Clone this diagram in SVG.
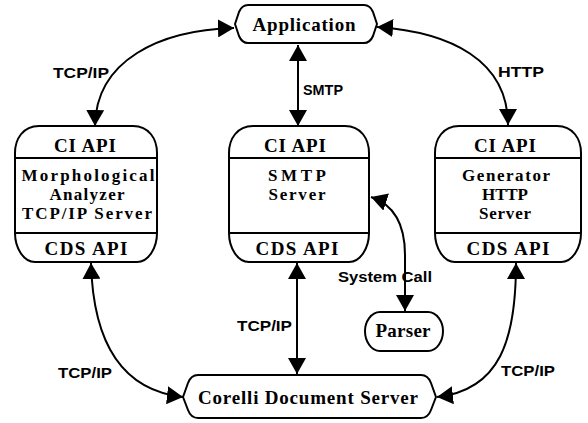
<svg xmlns="http://www.w3.org/2000/svg" width="588" height="423" viewBox="0 0 588 423">
  <style>
    .shape { fill: #ffffff; stroke: #000000; stroke-width: 2; stroke-linejoin: round; }
    .div { stroke: #000000; stroke-width: 2; }
    .t { font-family: "Liberation Serif", "Times New Roman", serif; font-weight: bold; font-size: 19px; fill: #000000; text-anchor: middle; }
    .m { font-size: 17px; }
    .lbl { font-family: "Liberation Sans", Arial, sans-serif; font-weight: bold; font-size: 14px; fill: #000000; }
    .wire { fill: none; stroke: #000000; stroke-width: 2; marker-start: url(#head); marker-end: url(#head); }
  </style>
  <defs>
    <marker id="head" markerUnits="userSpaceOnUse" viewBox="0 0 16 18" markerWidth="16" markerHeight="18" refX="16" refY="9" orient="auto-start-reverse">
      <path d="M0,0 L16,9 L0,18 Z" fill="#000000"/>
    </marker>
  </defs>
  <rect width="588" height="423" fill="#ffffff"/>

  <!-- connectors -->
  <g id="connectors">
    <path class="wire" d="M 234,28 C 160,30 96,60 95,126"/>
    <path class="wire" d="M 298,45 L 298,126"/>
    <path class="wire" d="M 377,27 C 450,32 508,60 508,125"/>
    <path class="wire" d="M 91,263 C 93,340 120,390 183,397"/>
    <path class="wire" d="M 297,263 L 297,374"/>
    <path class="wire" d="M 516,263 C 516,340 500,390 437,397"/>
    <path class="wire" d="M 371,197 C 395,205 405,225 405,255 L 405,311"/>
    <text class="lbl" x="53" y="78" textLength="56" lengthAdjust="spacingAndGlyphs">TCP/IP</text>
    <text class="lbl" x="303" y="95" textLength="40" lengthAdjust="spacingAndGlyphs">SMTP</text>
    <text class="lbl" x="498" y="77" textLength="46" lengthAdjust="spacingAndGlyphs">HTTP</text>
    <text class="lbl" x="338" y="282" textLength="94" lengthAdjust="spacingAndGlyphs">System Call</text>
    <text class="lbl" x="237" y="331" textLength="55" lengthAdjust="spacingAndGlyphs">TCP/IP</text>
    <text class="lbl" x="58" y="378" textLength="54" lengthAdjust="spacingAndGlyphs">TCP/IP</text>
    <text class="lbl" x="501" y="376" textLength="54" lengthAdjust="spacingAndGlyphs">TCP/IP</text>
  </g>

  <!-- Application -->
  <g id="application">
    <path class="shape" d="M 248,5 L 364,5 Q 370,5 373,12 L 377,24 L 373,36 Q 370,43 364,43 L 248,43 Q 242,43 239,36 L 235,24 L 239,12 Q 242,5 248,5 Z"/>
    <text class="t" x="304" y="31" textLength="103" lengthAdjust="spacing">Application</text>
  </g>

  <!-- Morphological Analyzer -->
  <g id="morph-server">
    <path class="shape" d="M 39,126 L 133,126 C 149,126 157,139 157,153 L 157,233 C 157,247 149,262 137,262 L 35,262 C 23,262 15,247 15,233 L 15,153 C 15,139 23,126 39,126 Z"/>
    <line class="div" x1="15" y1="158" x2="157" y2="158"/>
    <line class="div" x1="15" y1="233" x2="157" y2="233"/>
    <text class="t" x="85" y="152" textLength="62" lengthAdjust="spacing">CI API</text>
    <text class="t m" x="88" y="181" textLength="133" lengthAdjust="spacing">Morphological</text>
    <text class="t m" x="87" y="200" textLength="75" lengthAdjust="spacing">Analyzer</text>
    <text class="t m" x="87" y="219" textLength="130" lengthAdjust="spacing">TCP/IP Server</text>
    <text class="t" x="86" y="255" textLength="83" lengthAdjust="spacing">CDS API</text>
  </g>

  <!-- SMTP Server -->
  <g id="smtp-server">
    <path class="shape" d="M 253,126 L 345,126 C 361,126 369,139 369,153 L 369,233 C 369,247 361,262 349,262 L 249,262 C 237,262 229,247 229,233 L 229,153 C 229,139 237,126 253,126 Z"/>
    <line class="div" x1="229" y1="158" x2="369" y2="158"/>
    <line class="div" x1="229" y1="233" x2="369" y2="233"/>
    <text class="t" x="295" y="152" textLength="62" lengthAdjust="spacing">CI API</text>
    <text class="t m" x="297" y="181" textLength="58" lengthAdjust="spacing">SMTP</text>
    <text class="t m" x="297" y="200" textLength="57" lengthAdjust="spacing">Server</text>
    <text class="t" x="297" y="255" textLength="83" lengthAdjust="spacing">CDS API</text>
  </g>

  <!-- Generator HTTP Server -->
  <g id="http-server">
    <path class="shape" d="M 459,126 L 557,126 C 573,126 581,139 581,153 L 581,233 C 581,247 573,262 561,262 L 455,262 C 443,262 435,247 435,233 L 435,153 C 435,139 443,126 459,126 Z"/>
    <line class="div" x1="435" y1="158" x2="581" y2="158"/>
    <line class="div" x1="435" y1="233" x2="581" y2="233"/>
    <text class="t" x="505" y="152" textLength="62" lengthAdjust="spacing">CI API</text>
    <text class="t m" x="506" y="181" textLength="88" lengthAdjust="spacing">Generator</text>
    <text class="t m" x="505" y="200" textLength="46" lengthAdjust="spacing">HTTP</text>
    <text class="t m" x="505" y="219" textLength="52" lengthAdjust="spacing">Server</text>
    <text class="t" x="508" y="255" textLength="83" lengthAdjust="spacing">CDS API</text>
  </g>

  <!-- Parser -->
  <g id="parser">
    <path class="shape" d="M 380,312 L 428,312 C 437,312 443,322 443,331 C 443,341 437,351 428,351 L 380,351 C 371,351 365,341 365,331 C 365,322 371,312 380,312 Z"/>
    <text class="t" x="403" y="337" textLength="55" lengthAdjust="spacing">Parser</text>
  </g>

  <!-- Corelli Document Server -->
  <g id="document-server">
    <path class="shape" d="M 198,375 L 421,375 Q 428,375 431,383 L 436,397 L 431,410 Q 428,418 421,418 L 198,418 Q 191,418 188,410 L 183,397 L 188,383 Q 191,375 198,375 Z"/>
    <text class="t" x="308" y="404" textLength="220" lengthAdjust="spacing">Corelli Document Server</text>
  </g>
</svg>
